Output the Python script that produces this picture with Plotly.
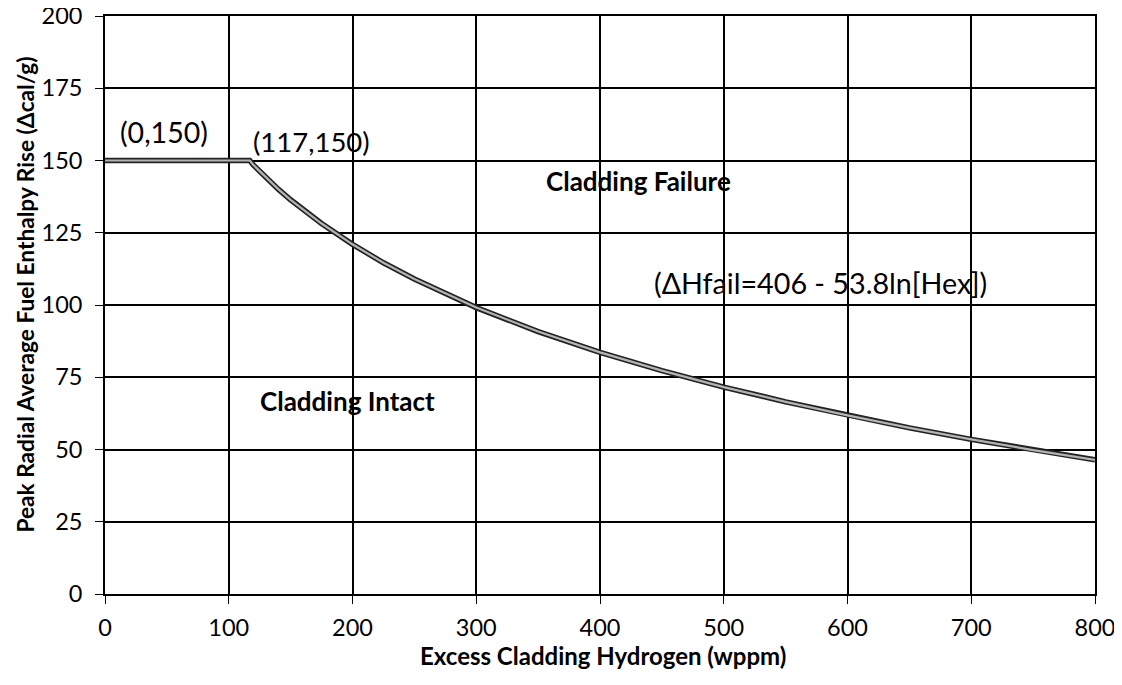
import plotly.graph_objects as go

hydrogen_wppm = [0, 117, 120, 130, 140, 150, 160, 175, 200, 225, 250, 300, 350, 400, 450, 500, 550, 600, 650, 700, 750, 800]
enthalpy_rise = [150, 150, 148.4, 144.1, 140.1, 136.4, 133.0, 128.2, 121.0, 114.6, 109.0, 99.1, 90.8, 83.6, 77.3, 71.6, 66.5, 61.8, 57.5, 53.5, 49.8, 46.4]

x_ticks = [0, 100, 200, 300, 400, 500, 600, 700, 800]
y_ticks = [0, 25, 50, 75, 100, 125, 150, 175, 200]

x_title = "Excess Cladding Hydrogen (wppm)"
y_title = "Peak Radial Average Fuel Enthalpy Rise (Δcal/g)"

FONT = "Lato"

fig = go.Figure()
fig.add_trace(go.Scatter(x=hydrogen_wppm, y=enthalpy_rise, mode="lines",
                         line=dict(color="#222222", width=5.5), hoverinfo="skip", showlegend=False))
fig.add_trace(go.Scatter(x=hydrogen_wppm, y=enthalpy_rise, mode="lines",
                         line=dict(color="#b4b4b4", width=2.2), showlegend=False))

fig.update_layout(
    width=1106, height=669,
    margin=dict(l=97, r=19, t=8, b=83),
    paper_bgcolor="white", plot_bgcolor="white",
    font=dict(family=FONT, color="black", size=23.5),
    xaxis=dict(range=[0, 800], tickvals=x_ticks, ticktext=[str(v) for v in x_ticks],
               showgrid=True, gridcolor="black", gridwidth=1.7,
               showline=True, linecolor="black", linewidth=1.7, mirror=True,
               ticks="outside", ticklen=8, tickcolor="black", zeroline=False,
               automargin=False, ticklabelstandoff=4, ticklabeloverflow="allow",
               tickfont=dict(size=23.5)),
    yaxis=dict(range=[0, 200], tickvals=y_ticks, ticktext=[str(v) for v in y_ticks],
               showgrid=True, gridcolor="black", gridwidth=1.7,
               showline=True, linecolor="black", linewidth=1.7, mirror=True,
               ticks="outside", ticklen=8, tickcolor="black", zeroline=False,
               automargin=False, ticklabelstandoff=8, ticklabeloverflow="allow",
               tickfont=dict(size=23.5)),
)

# axis titles as annotations for exact placement
fig.add_annotation(x=0.503, y=-0.106, xref="paper", yref="paper", text="<b>" + x_title + "</b>",
                   showarrow=False, xanchor="center", yanchor="middle",
                   font=dict(size=24, family=FONT, color="black"))
fig.add_annotation(x=-0.0798, y=0.518, xref="paper", yref="paper", text="<b>" + y_title + "</b>",
                   showarrow=False, xanchor="center", yanchor="middle", textangle=-90,
                   font=dict(size=22.7, family=FONT, color="black"))

annots = [
    dict(x=47.6, y=160, text="(0,150)", size=28.5),
    dict(x=167, y=156.7, text="(117,150)", size=27.5),
    dict(x=431, y=143, text="<b>Cladding Failure</b>", size=26),
    dict(x=578, y=107.6, text="(ΔHfail=406 - 53.8ln[Hex])", size=28.7),
    dict(x=196, y=66.8, text="<b>Cladding Intact</b>", size=26),
]
for a in annots:
    fig.add_annotation(x=a["x"], y=a["y"], xref="x", yref="y", text=a["text"],
                       showarrow=False, font=dict(size=a["size"], family=FONT, color="black"),
                       bgcolor="rgba(0,0,0,0)")

fig.write_html("out.html")
